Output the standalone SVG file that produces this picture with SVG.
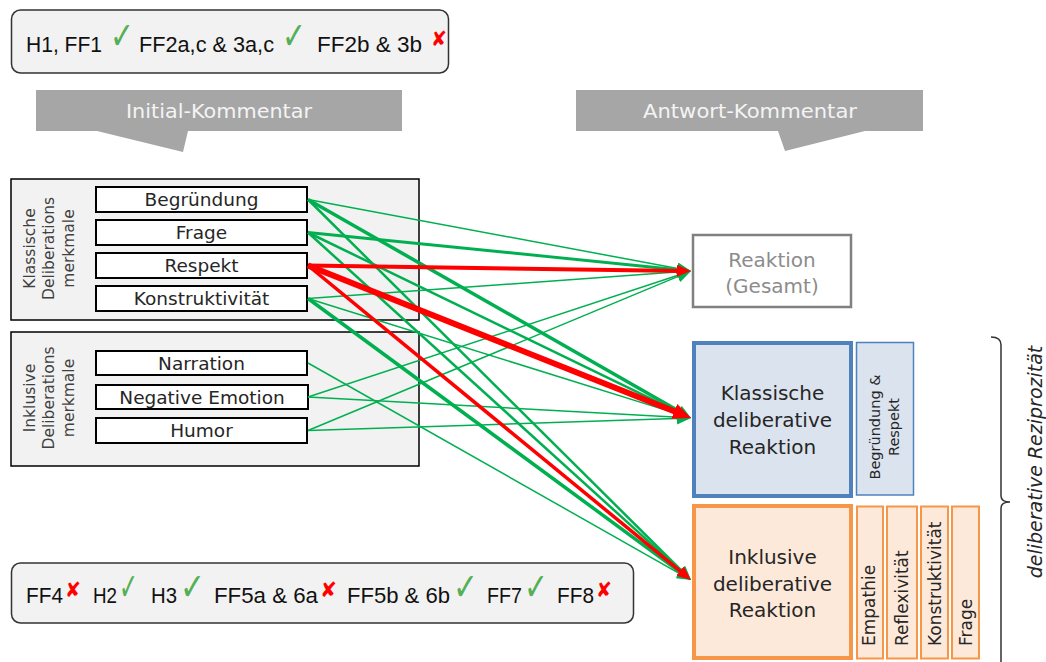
<svg xmlns="http://www.w3.org/2000/svg" width="1046" height="662" viewBox="0 0 1046 662">
<style>
.hyp{font-family:"Liberation Sans",Arial,sans-serif;font-size:22px;fill:#111}
.ok{font-family:"DejaVu Sans",sans-serif;font-size:38px;fill:#55b055}
.no{font-family:"DejaVu Sans",sans-serif;font-size:21px;font-weight:bold;fill:#ff0000}
.cg{font-family:"DejaVu Sans",sans-serif}
.banner{fill:#a6a6a6}
.bt{font-size:19px;fill:#f4f4f4;text-anchor:middle}
.outer{fill:#f2f2f2;stroke:#000;stroke-width:1.5}
.item{fill:#fff;stroke:#000;stroke-width:2}
.it{font-size:18.5px;fill:#262626;text-anchor:middle}
.vl{font-size:15.5px;fill:#404040;text-anchor:middle}
.rt{font-size:20px;fill:#262626;text-anchor:middle}
.g{stroke:#00b050;fill:none}
.r{stroke:#ff0000;fill:none}
.blue{fill:#dbe3ef;stroke:#4f81bd}
.orange{fill:#fde9d9;stroke:#f79646}
.sm{font-size:17px;fill:#262626}
</style>
<defs>
<marker id="ag" markerUnits="userSpaceOnUse" markerWidth="16" markerHeight="14" refX="6" refY="6" orient="auto">
<path d="M0,0 L14,6 L0,12 z" fill="#00b050"/>
</marker>
<marker id="ar" markerUnits="userSpaceOnUse" markerWidth="16" markerHeight="14" refX="6" refY="6" orient="auto">
<path d="M0,0 L14,6 L0,12 z" fill="#ff0000"/>
</marker>
<marker id="arb" markerUnits="userSpaceOnUse" markerWidth="20" markerHeight="18" refX="8" refY="8" orient="auto">
<path d="M0,0 L18,8 L0,16 z" fill="#ff0000"/>
</marker>
</defs>

<g id="top-results">
<rect x="11.5" y="10" width="437" height="63" rx="9" fill="#f2f2f2" stroke="#333" stroke-width="1.5"/>
<text class="hyp" x="26" y="52" textLength="76" lengthAdjust="spacingAndGlyphs">H1, FF1</text>
<text class="ok" x="110" y="49" textLength="24" lengthAdjust="spacingAndGlyphs">✓</text>
<text class="hyp" x="139" y="52" textLength="135" lengthAdjust="spacingAndGlyphs">FF2a,c &amp; 3a,c</text>
<text class="ok" x="282" y="49" textLength="24" lengthAdjust="spacingAndGlyphs">✓</text>
<text class="hyp" x="317" y="52" textLength="105" lengthAdjust="spacingAndGlyphs">FF2b &amp; 3b</text>
<text class="no" x="431" y="46" textLength="16" lengthAdjust="spacingAndGlyphs">✘</text>
</g>

<g id="banner-initial">
<path class="banner" d="M36,90 H402 V131 H188 L183,152 L97,131 H36 z"/>
<text class="cg bt" x="219" y="118" textLength="186" lengthAdjust="spacingAndGlyphs">Initial-Kommentar</text>
</g>
<g id="banner-antwort">
<path class="banner" d="M576,90 H923 V131 H865 L785,151 L778,131 H576 z"/>
<text class="cg bt" x="750" y="118" textLength="214" lengthAdjust="spacingAndGlyphs">Antwort-Kommentar</text>
</g>

<g id="group-klassisch">
<rect class="outer" x="11" y="179" width="408" height="141"/>
<g class="cg vl" transform="translate(0,248.5)">
<text transform="translate(35,0) rotate(-90)">Klassische</text>
<text transform="translate(54,0) rotate(-90)">Deliberations</text>
<text transform="translate(74,0) rotate(-90)">merkmale</text>
</g>
</g>
<g id="group-inklusiv">
<rect class="outer" x="11" y="332" width="408" height="134"/>
<g class="cg vl" transform="translate(0,398)">
<text transform="translate(35,0) rotate(-90)">Inklusive</text>
<text transform="translate(54,0) rotate(-90)">Deliberations</text>
<text transform="translate(74,0) rotate(-90)">merkmale</text>
</g>
</g>

<g id="n-begruendung"><rect class="item" x="96" y="187" width="211" height="25"/><text class="cg it" x="201.5" y="206">Begründung</text></g>
<g id="n-frage"><rect class="item" x="96" y="220" width="211" height="25"/><text class="cg it" x="201.5" y="239">Frage</text></g>
<g id="n-respekt"><rect class="item" x="96" y="253" width="211" height="25"/><text class="cg it" x="201.5" y="272">Respekt</text></g>
<g id="n-konstruktivitaet"><rect class="item" x="96" y="286" width="211" height="25"/><text class="cg it" x="201.5" y="305">Konstruktivität</text></g>
<g id="n-narration"><rect class="item" x="96" y="351" width="211" height="24"/><text class="cg it" x="201.5" y="369.5">Narration</text></g>
<g id="n-negemotion"><rect class="item" x="96" y="385" width="212" height="24"/><text class="cg it" x="202" y="403.5">Negative Emotion</text></g>
<g id="n-humor"><rect class="item" x="96" y="418" width="211" height="25"/><text class="cg it" x="201.5" y="437">Humor</text></g>

<g id="n-reaktion-gesamt">
<rect x="693" y="235" width="158" height="72" fill="#fff" stroke="#808080" stroke-width="2.5"/>
<text class="cg rt" x="772" y="267" style="fill:#8c8c8c">Reaktion</text>
<text class="cg rt" x="772" y="293" style="fill:#8c8c8c">(Gesamt)</text>
</g>

<g id="n-klassische-reaktion">
<rect class="blue" x="694" y="343" width="157" height="153" stroke-width="4"/>
<text class="cg rt" x="772.5" y="400">Klassische</text>
<text class="cg rt" x="772.5" y="427">deliberative</text>
<text class="cg rt" x="772.5" y="454">Reaktion</text>
<rect class="blue" x="856.5" y="342.5" width="57" height="152.5" stroke-width="1.5"/>
<text class="cg" font-size="14.5" fill="#262626" text-anchor="middle" transform="translate(880,427) rotate(-90)">Begründung &amp;</text>
<text class="cg" font-size="14.5" fill="#262626" text-anchor="middle" transform="translate(899,427) rotate(-90)">Respekt</text>
</g>

<g id="n-inklusive-reaktion">
<rect class="orange" x="694" y="506" width="157" height="152" stroke-width="4"/>
<text class="cg rt" x="772.5" y="564">Inklusive</text>
<text class="cg rt" x="772.5" y="591">deliberative</text>
<text class="cg rt" x="772.5" y="617">Reaktion</text>
<rect class="orange" x="857" y="506.5" width="26" height="152" stroke-width="2"/>
<rect class="orange" x="887" y="506.5" width="30" height="152" stroke-width="2"/>
<rect class="orange" x="921" y="506.5" width="27" height="152" stroke-width="2"/>
<rect class="orange" x="952" y="506.5" width="27" height="152" stroke-width="2"/>
<text class="cg sm" transform="translate(875,646) rotate(-90)">Empathie</text>
<text class="cg sm" transform="translate(908,646) rotate(-90)">Reflexivität</text>
<text class="cg sm" transform="translate(941,646) rotate(-90)">Konstruktivität</text>
<text class="cg sm" transform="translate(972,646) rotate(-90)">Frage</text>
</g>

<g id="reziprozitaet">
<path d="M991,337 Q1001,337 1001,345 L1001,496 Q1001,502 1010,502 Q1001,502 1001,508 L1001,662" fill="none" stroke="#333" stroke-width="1.5"/>
<text class="cg" font-size="19" font-style="italic" fill="#262626" text-anchor="middle" transform="translate(1042,462) rotate(-90)">deliberative Reziprozität</text>
</g>

<g id="connectors">
<line class="g" stroke-width="1.5" x1="308" y1="199.5" x2="683.1" y2="269.5" marker-end="url(#ag)"/>
<line class="g" stroke-width="3.5" x1="308" y1="199.5" x2="684" y2="414" marker-end="url(#ag)"/>
<line class="g" stroke-width="2.5" x1="308" y1="199.5" x2="685.3" y2="574.4" marker-end="url(#ag)"/>
<line class="g" stroke-width="3" x1="308" y1="232.5" x2="683" y2="270.2" marker-end="url(#ag)"/>
<line class="g" stroke-width="2.5" x1="308" y1="232.5" x2="683.8" y2="414.5" marker-end="url(#ag)"/>
<line class="g" stroke-width="2.5" x1="308" y1="232.5" x2="685.1" y2="574.6" marker-end="url(#ag)"/>
<line class="g" stroke-width="1.5" x1="308" y1="298.5" x2="683" y2="271.6" marker-end="url(#ag)"/>
<line class="g" stroke-width="1.5" x1="308" y1="298.5" x2="683.4" y2="415.6" marker-end="url(#ag)"/>
<line class="g" stroke-width="3.5" x1="308" y1="298.5" x2="684.6" y2="575.3" marker-end="url(#ag)"/>
<line class="g" stroke-width="1.5" x1="308" y1="363" x2="684" y2="576.1" marker-end="url(#ag)"/>
<line class="g" stroke-width="1.5" x1="308" y1="397" x2="683.4" y2="273.5" marker-end="url(#ag)"/>
<line class="g" stroke-width="1.5" x1="308" y1="397" x2="683" y2="417.6" marker-end="url(#ag)"/>
<line class="g" stroke-width="1.5" x1="308" y1="430.5" x2="683.6" y2="274.1" marker-end="url(#ag)"/>
<line class="g" stroke-width="1.5" x1="308" y1="430.5" x2="683" y2="418.3" marker-end="url(#ag)"/>
<line class="r" stroke-width="4" x1="308" y1="265.5" x2="683" y2="270.9" marker-end="url(#ar)"/>
<line class="r" stroke-width="6" x1="308" y1="265.5" x2="681.7" y2="414.3" marker-end="url(#arb)"/>
<line class="r" stroke-width="3.5" x1="308" y1="265.5" x2="684.8" y2="574.9" marker-end="url(#ar)"/>
</g>

<g id="bottom-results">
<rect x="11.5" y="563" width="622" height="60" rx="9" fill="#f2f2f2" stroke="#333" stroke-width="1.5"/>
<text class="hyp" x="26" y="603" textLength="37" lengthAdjust="spacingAndGlyphs">FF4</text>
<text class="no" x="65" y="597" textLength="16" lengthAdjust="spacingAndGlyphs">✘</text>
<text class="hyp" x="93" y="603" textLength="24" lengthAdjust="spacingAndGlyphs">H2</text>
<text class="ok" x="119" y="600" textLength="19" lengthAdjust="spacingAndGlyphs">✓</text>
<text class="hyp" x="151" y="603" textLength="26" lengthAdjust="spacingAndGlyphs">H3</text>
<text class="ok" x="180" y="600" textLength="25" lengthAdjust="spacingAndGlyphs">✓</text>
<text class="hyp" x="214" y="603" textLength="104" lengthAdjust="spacingAndGlyphs">FF5a &amp; 6a</text>
<text class="no" x="320" y="597" textLength="17" lengthAdjust="spacingAndGlyphs">✘</text>
<text class="hyp" x="347" y="603" textLength="103" lengthAdjust="spacingAndGlyphs">FF5b &amp; 6b</text>
<text class="ok" x="453" y="600" textLength="25" lengthAdjust="spacingAndGlyphs">✓</text>
<text class="hyp" x="487" y="603" textLength="35" lengthAdjust="spacingAndGlyphs">FF7</text>
<text class="ok" x="524" y="600" textLength="24" lengthAdjust="spacingAndGlyphs">✓</text>
<text class="hyp" x="557" y="603" textLength="37" lengthAdjust="spacingAndGlyphs">FF8</text>
<text class="no" x="596" y="597" textLength="16" lengthAdjust="spacingAndGlyphs">✘</text>
</g>
</svg>
